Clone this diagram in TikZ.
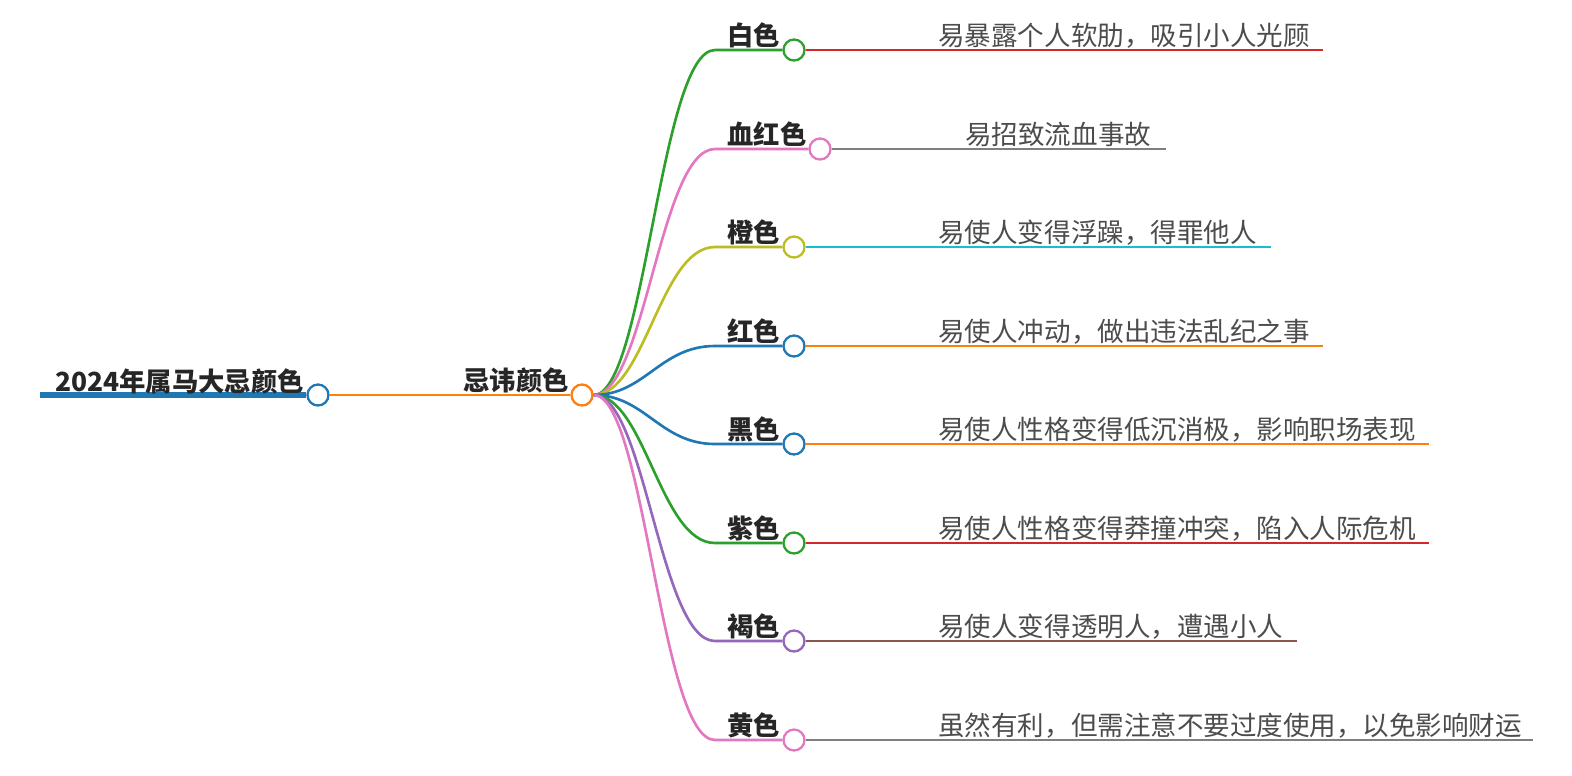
\documentclass[tikz,border=0pt]{standalone}
\usepackage{fontspec}
\newfontfamily\cjk{Noto Sans CJK SC}
\usetikzlibrary{calc}
\definecolor{tblue}{HTML}{1F77B4}
\definecolor{torange}{HTML}{FF7F0E}
\definecolor{tgreen}{HTML}{2CA02C}
\definecolor{tred}{HTML}{D62728}
\definecolor{tpurple}{HTML}{9467BD}
\definecolor{tbrown}{HTML}{8C564B}
\definecolor{tpink}{HTML}{E377C2}
\definecolor{tgrey}{HTML}{7F7F7F}
\definecolor{tolive}{HTML}{BCBD22}
\definecolor{tcyan}{HTML}{17BECF}
\tikzset{
  dot/.style={circle, draw, fill=white, line width=1.3pt, minimum size=0.42cm, inner sep=0pt},
  lbl/.style={anchor=base west, inner sep=0pt, text=black!85,
    font=\cjk\bfseries\fontsize{15pt}{18pt}\selectfont},
  leaf/.style={anchor=base west, inner sep=0pt, text=black!70,
    font=\cjk\fontsize{15.1pt}{18pt}\selectfont},
  link/.style={line width=1.5pt},
}
\begin{document}
\begin{tikzpicture}[x=0.02cm, y=-0.02cm]
		\useasboundingbox (0,0) rectangle (1572,775);
		
		%%%%% ROOT %%%%%
		\coordinate (r0) at (40,395);
		\node[dot, draw=tblue] (root) at (318,395) {};
		\draw[tblue, line width=3.4pt] (r0) -- (root.west);
		\node[lbl] (roottxt) at (55,391) {2024年属马大忌颜色};
		
		\node[dot, draw=torange] (hub) at (582,395) {};
		\draw[link, torange] (root.east) -- (hub.west);
		\node[lbl] (hubtxt) at (463,390) {忌讳颜色};
		
		%%%%% BRANCHES %%%%%
		\node[dot, draw=tgreen] (c1) at (794,50) {};
		\node[lbl] (l1) at (727,45) {白色};
		\draw[link, tgreen] (hub.east) .. controls (645,395) and (660,50) .. (715,50) -- (c1.west);
		\coordinate (e1) at (1323,50);
		\node[leaf] (t1) at (938,45) {易暴露个人软肋，吸引小人光顾};
		\draw[link, tred] (c1.east) -- (e1);
		
		\node[dot, draw=tpink] (c2) at (820,149) {};
		\node[lbl] (l2) at (727,144) {血红色};
		\draw[link, tpink] (hub.east) .. controls (645,395) and (660,149) .. (715,149) -- (c2.west);
		\coordinate (e2) at (1166,149);
		\node[leaf] (t2) at (965,144) {易招致流血事故};
		\draw[link, tgrey] (c2.east) -- (e2);
		
		\node[dot, draw=tolive] (c3) at (794,247) {};
		\node[lbl] (l3) at (727,242) {橙色};
		\draw[link, tolive] (hub.east) .. controls (645,395) and (660,247) .. (715,247) -- (c3.west);
		\coordinate (e3) at (1271,247);
		\node[leaf] (t3) at (938,242) {易使人变得浮躁，得罪他人};
		\draw[link, tcyan] (c3.east) -- (e3);
		
		\node[dot, draw=tblue] (c4) at (794,346) {};
		\node[lbl] (l4) at (727,341) {红色};
		\draw[link, tblue] (hub.east) .. controls (645,395) and (660,346) .. (715,346) -- (c4.west);
		\coordinate (e4) at (1323,346);
		\node[leaf] (t4) at (938,341) {易使人冲动，做出违法乱纪之事};
		\draw[link, torange] (c4.east) -- (e4);
		
		\node[dot, draw=tblue] (c5) at (794,444) {};
		\node[lbl] (l5) at (727,439) {黑色};
		\draw[link, tblue] (hub.east) .. controls (645,395) and (660,444) .. (715,444) -- (c5.west);
		\coordinate (e5) at (1429,444);
		\node[leaf] (t5) at (938,439) {易使人性格变得低沉消极，影响职场表现};
		\draw[link, torange] (c5.east) -- (e5);
		
		\node[dot, draw=tgreen] (c6) at (794,543) {};
		\node[lbl] (l6) at (727,538) {紫色};
		\draw[link, tgreen] (hub.east) .. controls (645,395) and (660,543) .. (715,543) -- (c6.west);
		\coordinate (e6) at (1429,543);
		\node[leaf] (t6) at (938,538) {易使人性格变得莽撞冲突，陷入人际危机};
		\draw[link, tred] (c6.east) -- (e6);
		
		\node[dot, draw=tpurple] (c7) at (794,641) {};
		\node[lbl] (l7) at (727,636) {褐色};
		\draw[link, tpurple] (hub.east) .. controls (645,395) and (660,641) .. (715,641) -- (c7.west);
		\coordinate (e7) at (1297,641);
		\node[leaf] (t7) at (938,636) {易使人变得透明人，遭遇小人};
		\draw[link, tbrown] (c7.east) -- (e7);
		
		\node[dot, draw=tpink] (c8) at (794,740) {};
		\node[lbl] (l8) at (727,735) {黄色};
		\draw[link, tpink] (hub.east) .. controls (645,395) and (660,740) .. (715,740) -- (c8.west);
		\coordinate (e8) at (1533,740);
		\node[leaf] (t8) at (938,735) {虽然有利，但需注意不要过度使用，以免影响财运};
		\draw[link, tgrey] (c8.east) -- (e8);
		
		%%%%% END %%%%%
	\end{tikzpicture}
\end{document}
